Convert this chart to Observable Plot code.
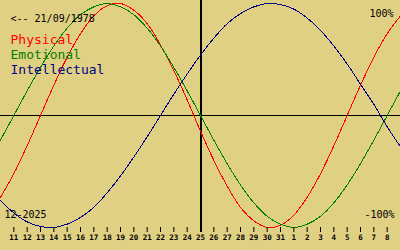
<!DOCTYPE html>
<html>
<head>
<meta charset="utf-8">
<script src="https://cdn.jsdelivr.net/npm/d3@7"></script>
<script src="https://cdn.jsdelivr.net/npm/@observablehq/plot@0.6"></script>
<style>
  html, body { margin: 0; padding: 0; background: #e0d084; }
  svg { display: block; }
</style>
</head>
<body>
<div id="chart"></div>
<script>
// Days shown (Dec 10, 2025 .. Jan 9, 2026); ticks drawn for 11 .. 8
const days = ["10","11","12","13","14","15","16","17","18","19","20","21","22","23","24","25","26","27","28","29","30","31","1","2","3","4","5","6","7","8","9"];
const tickDays = ["11","12","13","14","15","16","17","18","19","20","21","22","23","24","25","26","27","28","29","30","31","1","2","3","4","5","6","7","8"];
const todayLabel = "25";
const birthLabel = "<-- 21/09/1978";
const monthLabel = "12-2025";
const topLabel = "100%";
const bottomLabel = "-100%";
const seriesNames = ["Physical", "Emotional", "Intellectual"];
const seriesColors = ["#ff0000", "#008000", "#000080"];

// Values read per day (-1 .. 1)
const physical = [-0.73,-0.52,-0.27,0,0.27,0.52,0.73,0.89,0.98,1.0,0.94,0.82,0.63,0.40,0.14,-0.14,-0.40,-0.63,-0.82,-0.94,-1.0,-0.98,-0.89,-0.73,-0.52,-0.27,0,0.27,0.52,0.73,0.89];
const emotional = [-0.22,0,0.22,0.43,0.62,0.78,0.90,0.97,1,0.97,0.90,0.78,0.62,0.43,0.22,0,-0.22,-0.43,-0.62,-0.78,-0.90,-0.97,-1,-0.97,-0.90,-0.78,-0.62,-0.43,-0.22,0,0.22];
const intellectual = [-0.76,-0.87,-0.95,-0.99,-1.0,-0.97,-0.91,-0.82,-0.69,-0.54,-0.37,-0.19,0,0.19,0.37,0.54,0.69,0.82,0.91,0.97,1.0,0.99,0.95,0.87,0.76,0.62,0.46,0.28,0.10,-0.10,-0.28];

const seriesValues = [physical, emotional, intellectual];
const rows = seriesValues.flatMap((vals, k) =>
  vals.map((v, i) => ({ i, v, series: seriesNames[k] }))
);
const tickIdx = tickDays.map((d, j) => j + 1);
const todayIdx = days.indexOf(todayLabel);

const mono = "'DejaVu Sans Mono', monospace";

const chart = Plot.plot({
  width: 400,
  height: 250,
  marginTop: 3,
  marginBottom: 23,
  marginLeft: 0,
  marginRight: 0,
  style: { background: "#e0d084", fontFamily: mono, overflow: "visible" },
  x: { domain: [0, days.length - 1], axis: null, label: null },
  y: { domain: [-1, 1], axis: null, label: null },
  color: { domain: seriesNames, range: seriesColors },
  marks: [
    Plot.ruleY([0], { stroke: "#000", strokeWidth: 1, shapeRendering: "crispEdges" }),
    Plot.ruleX([todayIdx], { stroke: "#000", strokeWidth: 2, insetTop: -3, insetBottom: -5, shapeRendering: "crispEdges" }),
    Plot.line(rows, { x: "i", y: "v", z: "series", stroke: "series", strokeWidth: 1, curve: "catmull-rom", shapeRendering: "crispEdges" }),
    Plot.axisX(tickIdx, {
      anchor: "bottom",
      label: null,
      tickSize: 5,
      tickPadding: 2,
      tickFormat: (i) => days[i],
      fontSize: 7.5,
      fontWeight: "bold",
      fontFamily: mono,
      stroke: "#000",
      fill: "#000"
    }),
    Plot.text([birthLabel], { frameAnchor: "top-left", dx: 10, dy: 18, lineAnchor: "bottom", textAnchor: "start", fontSize: 10, fontFamily: mono, fill: "#000" }),
    ...seriesNames.map((name, k) =>
      Plot.text([name], { frameAnchor: "top-left", dx: 10, dy: 40 + 15 * k, lineAnchor: "bottom", textAnchor: "start", fontSize: 13, fontFamily: mono, fill: seriesColors[k] })
    ),
    Plot.text([topLabel], { frameAnchor: "top-right", dx: -7, dy: 13, lineAnchor: "bottom", textAnchor: "end", fontSize: 10, fontFamily: mono, fill: "#000" }),
    Plot.text([bottomLabel], { frameAnchor: "bottom-right", dx: -6, dy: -10, lineAnchor: "bottom", textAnchor: "end", fontSize: 10, fontFamily: mono, fill: "#000" }),
    Plot.text([monthLabel], { frameAnchor: "bottom-left", dx: 4, dy: -10, lineAnchor: "bottom", textAnchor: "start", fontSize: 10, fontFamily: mono, fill: "#000" })
  ]
});
document.getElementById("chart").append(chart);
</script>
</body>
</html>
